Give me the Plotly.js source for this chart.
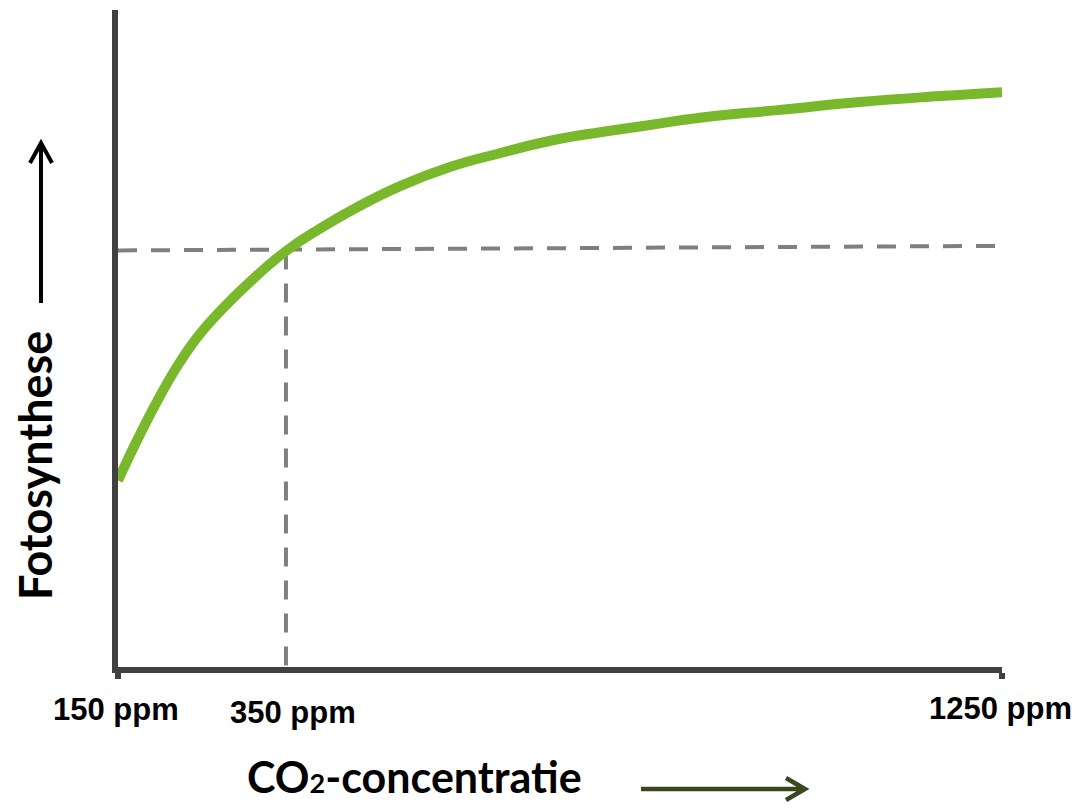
<!DOCTYPE html>
<html>
<head>
<meta charset="utf-8">
<script src="https://cdn.plot.ly/plotly-3.0.1.min.js"></script>
<style>html,body{margin:0;padding:0;background:#fff;}#chart{width:1081px;height:811px;}</style>
</head>
<body>
<div id="chart"></div>
<script>
// CO2 concentration (ppm) and photosynthesis (arbitrary units)
const co2Ppm = [150, 177, 202, 227, 252, 283, 314, 359, 401, 451, 501, 563, 625, 688, 750, 812, 874, 974, 1073, 1173, 1250];
const fotosynthese = [28.4, 35.3, 41.2, 46.4, 50.7, 54.9, 58.6, 63.3, 66.7, 70.2, 73.2, 76.1, 78.2, 80.1, 81.4, 82.5, 83.6, 84.8, 86.0, 86.9, 87.5];

// dashed reference lines (current CO2 level)
const refHorizX = [150, 1250];
const refHorizY = [63.4, 64.1];
const refVertX = [359, 359];
const refVertY = [63.4, 0];

// tick labels
const tickPpm = [150, 359, 1250];
const tickText = ['150 ppm', '350 ppm', '1250 ppm'];

const xTitle = 'CO<span style="font-size:27px">2</span>-concentratie';
const yTitle = 'Fotosynthese';

const dashStyle = {color: '#7f7f7f', width: 4, dash: '19px,14px'};

const traces = [
  {x: refHorizX, y: refHorizY, mode: 'lines', line: dashStyle, hoverinfo: 'skip', showlegend: false},
  {x: refVertX, y: refVertY, mode: 'lines', line: dashStyle, hoverinfo: 'skip', showlegend: false},
  {x: co2Ppm, y: fotosynthese, mode: 'lines', line: {color: '#78b82a', width: 10, shape: 'spline', smoothing: 1.3}, showlegend: false}
];

const W = 884, H = 657, L = 118, T = 10;
const px = v => (v - L) / W;
const py = v => (T + H - v) / H;

const tickLabelY = [709, 712, 708];
const tickShift = [-2, 7, -2];
const annotations = tickText.map((t, i) => ({
  x: tickPpm[i], xref: 'x', y: py(tickLabelY[i]), yref: 'paper',
  text: t, showarrow: false, xanchor: 'center', yanchor: 'middle', xshift: tickShift[i],
  font: {family: 'Liberation Sans, Arial, sans-serif', size: 31, color: '#000', weight: 'bold'}
}));
annotations.push({
  x: px(414), xref: 'paper', y: py(776), yref: 'paper', text: xTitle, showarrow: false,
  xanchor: 'center', yanchor: 'middle',
  font: {family: 'Lato, sans-serif', size: 43, color: '#000', weight: 'bold'}
});
annotations.push({
  x: px(35), xref: 'paper', y: py(466), yref: 'paper', text: yTitle, showarrow: false, textangle: -90,
  xanchor: 'center', yanchor: 'middle',
  font: {family: 'Lato, sans-serif', size: 45, color: '#000', weight: 'bold'}
});

function arrowPath(x0, y0, x1, y1, a1x, a1y, a2x, a2y) {
  return 'M' + px(x0) + ',' + py(y0) + ' L' + px(x1) + ',' + py(y1) +
         ' M' + px(a1x) + ',' + py(a1y) + ' L' + px(x1) + ',' + py(y1) + ' L' + px(a2x) + ',' + py(a2y);
}

const shapes = [
  {type: 'path', xref: 'paper', yref: 'paper', path: arrowPath(41, 303, 41, 143, 30, 163, 52, 163), line: {color: '#000', width: 4}},
  {type: 'path', xref: 'paper', yref: 'paper', path: arrowPath(641, 789, 805, 789, 786, 778, 786, 800), line: {color: '#38471d', width: 4.5}}
];

const layout = {
  width: 1081, height: 811,
  margin: {l: L, r: 1081 - L - W, t: T, b: 811 - T - H},
  paper_bgcolor: '#fff', plot_bgcolor: '#fff',
  showlegend: false,
  xaxis: {range: [150, 1250], showgrid: false, zeroline: false, showline: true, linecolor: '#404040', linewidth: 6,
          ticks: 'outside', tickvals: [150, 1250], ticklen: 6, tickwidth: 6, tickcolor: '#404040', showticklabels: false,
          layer: 'below traces', fixedrange: true},
  yaxis: {range: [0, 100], showgrid: false, zeroline: false, showline: true, linecolor: '#404040', linewidth: 6,
          ticks: '', showticklabels: false, layer: 'below traces', fixedrange: true},
  annotations: annotations,
  shapes: shapes
};

Plotly.newPlot('chart', traces, layout, {displayModeBar: false, staticPlot: true});
</script>
</body>
</html>
